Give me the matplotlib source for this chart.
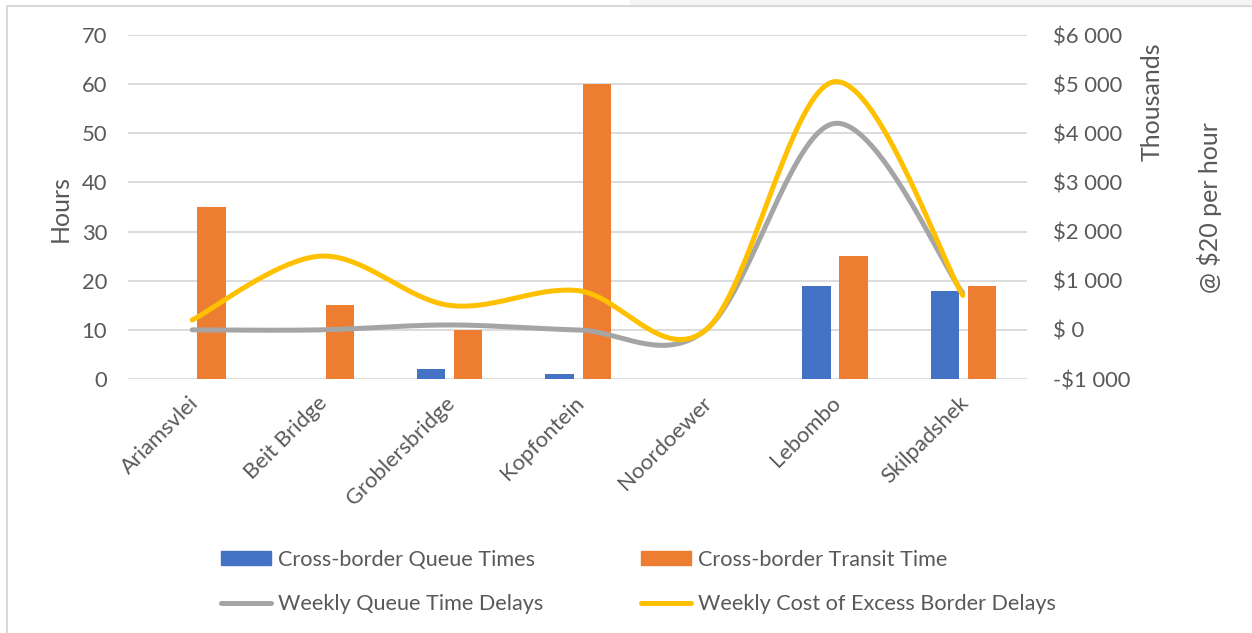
import numpy as np
import matplotlib
matplotlib.use('Agg')
import matplotlib.pyplot as plt
from matplotlib.patches import Patch, Rectangle
from matplotlib.lines import Line2D
from matplotlib.ticker import FuncFormatter, MultipleLocator
from matplotlib.transforms import ScaledTranslation

# border posts and values
posts = ['Ariamsvlei', 'Beit Bridge', 'Groblersbridge', 'Kopfontein',
         'Noordoewer', 'Lebombo', 'Skilpadshek']
queue_hours = [0, 0, 2, 1, 0, 19, 18]
transit_hours = [35, 15, 10, 60, 0, 25, 19]
# weekly costs, in thousands of $
queue_delay_cost = [0, 0, 100, 0, 0, 4200, 750]
excess_delay_cost = [200, 1500, 500, 800, 0, 5050, 700]

BLUE = '#4472C4'
ORANGE = '#ED7D31'
GREY = '#A5A5A5'
YELLOW = '#FFC000'
TXT = '#595959'
TICK_FS = 15.8
TITLE_FS = 18
LEG_FS = 15.6

plt.rcParams['font.family'] = ['Lato', 'DejaVu Sans']


def smooth(y, n=40):
    # bezier smoothing like office charts: control points at +/- (P[i+1]-P[i-1])/6
    y = np.asarray(y, dtype=float)
    x = np.arange(len(y), dtype=float)
    pts = np.column_stack([x, y])
    ext = np.vstack([pts[0], pts, pts[-1]])
    out = []
    t = np.linspace(0, 1, n)[:, None]
    for i in range(len(pts) - 1):
        p0, p3 = pts[i], pts[i + 1]
        p1 = p0 + (ext[i + 2] - ext[i]) / 6
        p2 = p3 - (ext[i + 3] - ext[i + 1]) / 6
        seg = ((1 - t) ** 3) * p0 + 3 * ((1 - t) ** 2) * t * p1 + 3 * (1 - t) * t ** 2 * p2 + t ** 3 * p3
        out.append(seg if i == 0 else seg[1:])
    out = np.vstack(out)
    return out[:, 0], out[:, 1]


fig = plt.figure(figsize=(12.52, 6.33), dpi=100)
W, H = 1252, 633
ax = fig.add_axes([128 / W, 1 - 379 / H, (1027 - 128) / W, (379 - 35) / H])

x = np.arange(len(posts))
bw = 0.22
ax.bar(x - 0.14, queue_hours, bw, color=BLUE, zorder=2)
ax.bar(x + 0.15, transit_hours, bw, color=ORANGE, zorder=2)

ax.set_xlim(-0.5, len(posts) - 0.5)
ax.set_ylim(0, 70)
ax.yaxis.set_major_locator(MultipleLocator(10))
ax.grid(axis='y', color='#D9D9D9', lw=1.3, zorder=0)
ax.set_axisbelow(True)
for s in ax.spines.values():
    s.set_visible(False)
ax.tick_params(length=0, colors=TXT, labelsize=TICK_FS)
ax.tick_params(axis='y', pad=15)
ax.tick_params(axis='x', pad=10)
ax.set_xticks(x)
ax.set_xticklabels(posts, rotation=45, ha='right', rotation_mode='anchor')
nudge = ScaledTranslation(-4 / 100, 0, fig.dpi_scale_trans)
for lbl in ax.get_xticklabels():
    lbl.set_transform(lbl.get_transform() + nudge)

ax2 = ax.twinx()
ax2.set_ylim(-1000, 6000)
ax2.yaxis.set_major_locator(MultipleLocator(1000))


def money(v, pos):
    if v == 0:
        return '$ 0'
    s = '{:,.0f}'.format(abs(v)).replace(',', ' ')
    return ('-$' if v < 0 else '$') + s


ax2.yaxis.set_major_formatter(FuncFormatter(money))
ax2.tick_params(length=0, colors=TXT, labelsize=TICK_FS, pad=19)
for s in ax2.spines.values():
    s.set_visible(False)

gx, gy = smooth(queue_delay_cost)
ax2.plot(gx, gy, color=GREY, lw=3.6, solid_capstyle='round')
yx, yy = smooth(excess_delay_cost)
ax2.plot(yx, yy, color=YELLOW, lw=3.6, solid_capstyle='round')

fig.text(60 / W, 1 - 208 / H, 'Hours', rotation=90, ha='center', va='center',
         color=TXT, fontsize=TITLE_FS)
fig.text(1152 / W, 1 - 102 / H, 'Thousands', rotation=90, ha='center', va='center',
         color=TXT, fontsize=TITLE_FS)
fig.text(1210 / W, 1 - 208 / H, '@ $20 per hour', rotation=90, ha='center', va='center',
         color=TXT, fontsize=TITLE_FS)

handles = [Patch(color=BLUE), Line2D([], [], color=GREY, lw=3.6, solid_capstyle='round'),
           Patch(color=ORANGE), Line2D([], [], color=YELLOW, lw=3.6, solid_capstyle='round')]
labels = ['Cross-border Queue Times', 'Weekly Queue Time Delays',
          'Cross-border Transit Time', 'Weekly Cost of Excess Border Delays']
leg = fig.legend(handles, labels, ncol=2, loc='upper left',
                 bbox_to_anchor=(210 / W, 1 - 539 / H), frameon=False,
                 prop={'size': LEG_FS}, labelcolor=TXT, borderpad=0,
                 handlelength=2.3, handleheight=0.65, handletextpad=0.35,
                 columnspacing=4.5, labelspacing=1.13)

# chart frame and the grey strip above it
fig.patches.append(Rectangle((630 / W, 1 - 6 / H), 1, 6 / H, transform=fig.transFigure,
                             color='#F4F4F4', zorder=0))
fig.lines.append(Line2D([7 / W, 7 / W, 1], [0, 1 - 6 / H, 1 - 6 / H],
                        transform=fig.transFigure, color='#D9D9D9', lw=1.5))

fig.savefig('out.png', dpi=100)
